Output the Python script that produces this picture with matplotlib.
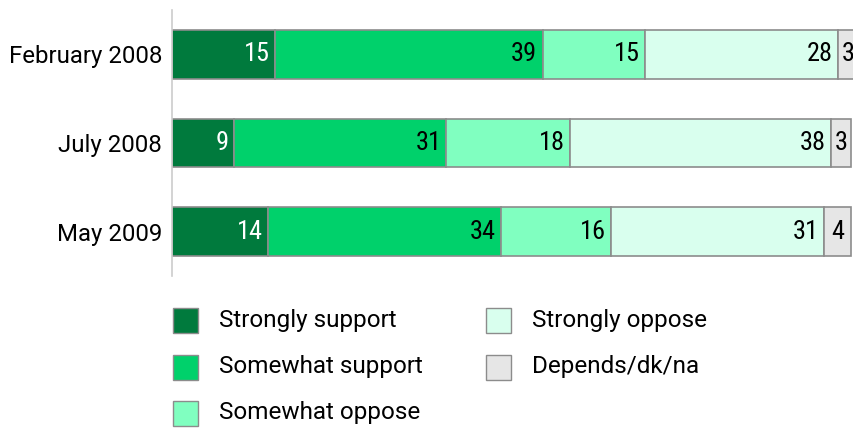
import matplotlib.pyplot as plt
from matplotlib.patches import Rectangle
from matplotlib import font_manager

# pick fonts that are installed
names = {f.name for f in font_manager.fontManager.ttflist}


def pick(cands):
    for c in cands:
        if c in names:
            return c
    return 'DejaVu Sans'


label_font = pick(['Roboto', 'Liberation Sans'])
num_font = pick(['Roboto Condensed', 'Barlow Semi Condensed', 'PT Sans Narrow',
                 'Archivo Narrow', 'Liberation Sans'])
plt.rcParams['font.family'] = [label_font, 'DejaVu Sans']

# data
periods = ["February 2008", "July 2008", "May 2009"]
categories = ["Strongly support", "Somewhat support", "Somewhat oppose",
              "Strongly oppose", "Depends/dk/na"]
strongly_support = [15, 9, 14]
somewhat_support = [39, 31, 34]
somewhat_oppose = [15, 18, 16]
strongly_oppose = [28, 38, 31]
depends = [3, 3, 4]
series = [strongly_support, somewhat_support, somewhat_oppose, strongly_oppose, depends]

colors = ["#007A3D", "#00D16B", "#80FFC0", "#D9FFEE", "#E6E6E6"]
text_colors = ["white", "black", "black", "black", "black"]

W, H = 854, 445
fig = plt.figure(figsize=(W / 100, H / 100), dpi=100)
ax = fig.add_axes([172 / W, 1 - 276 / H, (W - 172) / W, 266 / H])

y = list(range(len(periods)))
left = [0] * len(periods)
for k, vals in enumerate(series):
    ax.barh(y, vals, left=left, height=0.55, color=colors[k],
            edgecolor="#8C8C8C", linewidth=1.2, label=categories[k])
    for i, v in enumerate(vals):
        if k == len(series) - 1:
            ax.text(left[i] + v / 2, i, str(v), ha="center", va="center",
                    fontsize=19, color=text_colors[k], family=[num_font, 'DejaVu Sans'])
        else:
            ax.text(left[i] + v - 0.75, i, str(v), ha="right", va="center",
                    fontsize=19, color=text_colors[k], family=[num_font, 'DejaVu Sans'])
    left = [a + b for a, b in zip(left, vals)]

ax.set_xlim(0, 99.4)
ax.set_ylim(2.5, -0.5)
ax.set_yticks(y)
ax.set_yticklabels(periods, fontsize=17.3)
ax.tick_params(axis="y", length=0, pad=7)
ax.set_xticks([])
for s in ["top", "right", "bottom"]:
    ax.spines[s].set_visible(False)
ax.spines["left"].set_color("#CCCCCC")
ax.spines["left"].set_linewidth(1.2)

# legend, two columns
leg_pos = [(173, 320), (173, 367), (173, 413), (486, 320), (486, 367)]
sq = 25
for k, (lx, ly) in enumerate(leg_pos):
    fig.add_artist(Rectangle((lx / W, 1 - (ly + sq / 2) / H), sq / W, sq / H,
                             transform=fig.transFigure, facecolor=colors[k],
                             edgecolor="#8C8C8C", linewidth=1))
    fig.text((lx + 46) / W, 1 - ly / H, categories[k], ha="left", va="center",
             fontsize=17.5)

fig.savefig("out.png", dpi=100)
